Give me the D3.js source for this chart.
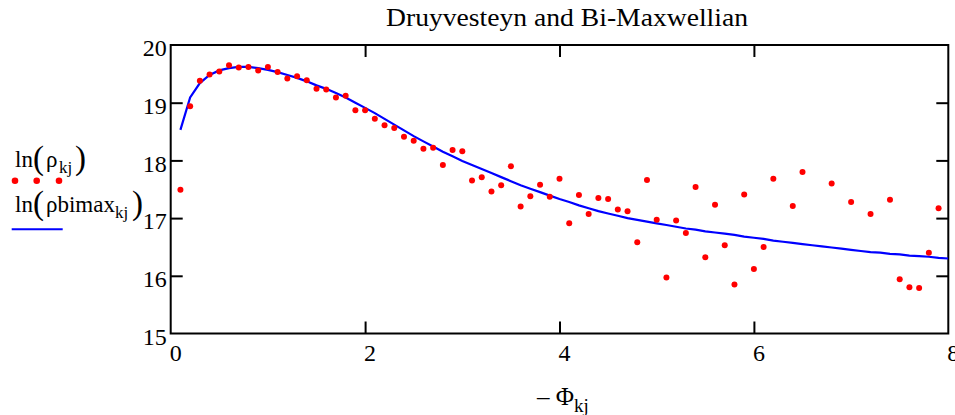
<!DOCTYPE html>
<html>
<head>
<meta charset="utf-8">
<script src="https://cdn.jsdelivr.net/npm/d3@7"></script>
<style>
  html, body { margin: 0; padding: 0; background: #fff; }
  svg { display: block; }
  text { font-family: "Liberation Serif", "Times New Roman", serif; fill: #000; }
</style>
</head>
<body>
<svg id="chart" width="955" height="415"></svg>
<script>
// ---- data ----
const phi = [0.1,0.2,0.3,0.4,0.5,0.6,0.7,0.8,0.9,1.0,1.1,1.2,1.3,1.4,1.5,1.6,1.7,1.8,1.9,2.0,
  2.1,2.2,2.3,2.4,2.5,2.6,2.7,2.8,2.9,3.0,3.1,3.2,3.3,3.4,3.5,3.6,3.7,3.8,3.9,4.0,
  4.1,4.2,4.3,4.4,4.5,4.6,4.7,4.8,4.9,5.0,5.1,5.2,5.3,5.4,5.5,5.6,5.7,5.8,5.9,6.0,
  6.1,6.2,6.3,6.4,6.5,6.6,6.7,6.8,6.9,7.0,7.1,7.2,7.3,7.4,7.5,7.6,7.7,7.8,7.9,8.0];

// ln(rho_kj) — measured points (null = not plotted)
const lnRho = [17.49,18.94,19.38,19.49,19.54,19.65,19.61,19.62,19.56,19.62,
  19.53,19.42,19.46,19.39,19.24,19.23,19.09,19.12,18.87,18.87,
  18.72,18.61,18.56,18.41,18.34,18.20,18.22,17.92,18.18,18.16,
  17.65,17.71,17.46,17.57,17.90,17.20,17.38,17.58,17.37,17.68,
  16.91,17.40,17.07,17.35,17.33,17.15,17.12,16.58,17.66,16.97,
  15.97,16.96,16.74,17.54,16.32,17.23,16.53,15.85,17.41,16.12,
  16.50,17.68,null,17.21,17.80,null,null,17.60,null,17.28,
  null,17.07,null,17.32,15.94,15.80,15.79,16.40,17.17,null];

// ln(rho bimax_kj) — fitted curve
const lnRhoBimax = [18.53,19.09,19.34,19.48,19.56,19.60,19.62,19.62,19.60,19.57,
  19.53,19.48,19.43,19.37,19.30,19.24,19.17,19.09,19.00,18.91,
  18.82,18.72,18.62,18.52,18.42,18.33,18.24,18.15,18.07,17.99,
  17.92,17.85,17.78,17.71,17.64,17.57,17.51,17.45,17.39,17.33,
  17.28,17.22,17.17,17.12,17.08,17.04,17.00,16.97,16.94,16.91,
  16.88,16.85,16.82,16.80,16.77,16.75,16.73,16.71,16.68,16.66,
  16.64,16.61,16.59,16.57,16.55,16.53,16.51,16.49,16.47,16.45,
  16.43,16.41,16.40,16.38,16.37,16.35,16.34,16.33,16.31,16.30];

const xTicks = [0, 2, 4, 6, 8];
const yTicks = [15, 16, 17, 18, 19, 20];
const titleText = "Druyvesteyn and Bi-Maxwellian";

// ---- layout ----
const L = 170.7, R = 948.3, T = 45, B = 333.5;
const svg = d3.select("#chart");
const x = d3.scaleLinear().domain([0, 8]).range([L, R]);
const y = d3.scaleLinear().domain([15, 20]).range([B, T]);

const inner = yTicks.filter(v => v > 15 && v < 20);
const innerX = xTicks.filter(v => v > 0 && v < 8);

// left axis: inward ticks + labels
const gl = svg.append("g").attr("transform", `translate(${L},0)`)
  .call(d3.axisLeft(y).tickValues(yTicks).tickSize(-12).tickPadding(4).tickFormat(d3.format("d")));
gl.select(".domain").remove();
gl.selectAll(".tick line").attr("stroke", "#000").attr("stroke-width", 2)
  .attr("display", d => (d === 15 || d === 20) ? "none" : null);
gl.selectAll(".tick text").attr("font-size", 24).attr("font-family", "Liberation Serif")
  .attr("fill", "#000").attr("dy", "0.45em");

// right axis ticks
const gr = svg.append("g").attr("transform", `translate(${R},0)`)
  .call(d3.axisRight(y).tickValues(inner).tickSize(-12).tickFormat(""));
gr.select(".domain").remove();
gr.selectAll(".tick line").attr("stroke", "#000").attr("stroke-width", 2);

// bottom axis
const gb = svg.append("g").attr("transform", `translate(0,${B})`)
  .call(d3.axisBottom(x).tickValues(xTicks).tickSize(-12).tickPadding(10).tickFormat(d3.format("d")));
gb.select(".domain").remove();
gb.selectAll(".tick line").attr("stroke", "#000").attr("stroke-width", 2)
  .attr("display", d => (d === 0 || d === 8) ? "none" : null);
gb.selectAll(".tick text").attr("font-size", 24).attr("font-family", "Liberation Serif")
  .attr("fill", "#000").attr("dx", 4.5);

// top axis ticks
const gt = svg.append("g").attr("transform", `translate(0,${T})`)
  .call(d3.axisTop(x).tickValues(innerX).tickSize(-12).tickFormat(""));
gt.select(".domain").remove();
gt.selectAll(".tick line").attr("stroke", "#000").attr("stroke-width", 2);

// frame
svg.append("rect").attr("x", L).attr("y", T).attr("width", R - L).attr("height", B - T)
  .attr("fill", "none").attr("stroke", "#000").attr("stroke-width", 2);

// clip
svg.append("clipPath").attr("id", "clip").append("rect")
  .attr("x", L).attr("y", T).attr("width", R - L).attr("height", B - T);
const plot = svg.append("g").attr("clip-path", "url(#clip)");

// curve
const lineData = phi.map((p, i) => [p, lnRhoBimax[i]]);
plot.append("path")
  .attr("d", d3.line().x(d => x(d[0])).y(d => y(d[1]))(lineData))
  .attr("fill", "none").attr("stroke", "#0000ff").attr("stroke-width", 2.2);

// points
const ptData = phi.map((p, i) => [p, lnRho[i]]).filter(d => d[1] !== null);
plot.selectAll("circle.pt").data(ptData).enter().append("circle")
  .attr("class", "pt")
  .attr("cx", d => x(d[0])).attr("cy", d => y(d[1])).attr("r", 3)
  .attr("fill", "#ff0000");

// title
svg.append("text").attr("x", 386).attr("y", 26).attr("font-size", 25)
  .attr("textLength", 362).attr("lengthAdjust", "spacingAndGlyphs").text(titleText);

// x axis title: − Φ_kj
const xt = svg.append("text").attr("x", 537).attr("y", 405).attr("font-size", 25);
xt.append("tspan").text("\u2013 \u03A6");
xt.append("tspan").attr("font-size", 19).attr("dy", 7).text("kj");

// legend
function legendLabel(yb, main, xMainEnd, xClose) {
  svg.append("text").attr("x", 15).attr("y", yb).attr("font-size", 23).text("ln");
  svg.append("text").attr("x", 33).attr("y", yb + 2).attr("font-size", 33).text("(");
  svg.append("text").attr("x", 46).attr("y", yb).attr("font-size", 23).text(main);
  svg.append("text").attr("x", xMainEnd).attr("y", yb + 6).attr("font-size", 17).text("kj");
  svg.append("text").attr("x", xClose).attr("y", yb + 2).attr("font-size", 33).text(")");
}
legendLabel(167, "\u03C1", 59, 75);
legendLabel(212, "\u03C1bimax", 115, 132);

const legendDots = [15, 36.7, 59];
svg.selectAll("circle.lg").data(legendDots).enter().append("circle")
  .attr("class", "lg").attr("cx", d => d).attr("cy", 180.7).attr("r", 3.3).attr("fill", "#ff0000");
svg.append("line").attr("x1", 11.7).attr("x2", 62.7).attr("y1", 229.3).attr("y2", 229.3)
  .attr("stroke", "#0000ff").attr("stroke-width", 2);
</script>
</body>
</html>
